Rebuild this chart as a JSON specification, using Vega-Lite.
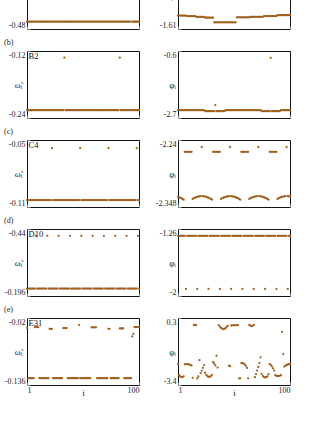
{
"$schema":"https://vega.github.io/schema/vega-lite/v6.json",
"padding":{"left":3,"top":-51,"right":0,"bottom":0},
"datasets":{"d":[
{"i":1,"aL":-0.467,"aR":-1.578,"bL":-0.226,"bR":-2.455,"cL":-0.1038,"cR":-2.3316,"dL":-0.223,"dR":-1.335,"eL":-0.0369,"eR":-2.24},
{"i":2,"aL":-0.467,"aR":-1.578,"bL":-0.226,"bR":-2.455,"cL":-0.1038,"cR":-2.3323,"dL":-0.223,"dR":-1.335,"eL":-0.1243,"eR":-2.86},
{"i":3,"aL":-0.467,"aR":-1.578,"bL":-0.226,"bR":-2.455,"cL":-0.1038,"cR":-2.333,"dL":-0.223,"dR":-1.335,"eL":-0.1243,"eR":-2.93},
{"i":4,"aL":-0.467,"aR":-1.578,"bL":-0.226,"bR":-2.455,"cL":-0.1038,"cR":-2.3339,"dL":-0.223,"dR":-1.335,"eL":-0.1243,"eR":-2.96},
{"i":5,"aL":-0.467,"aR":-1.578,"bL":-0.226,"bR":-2.455,"cL":-0.1038,"cR":-2.335,"dL":-0.223,"dR":-1.335,"eL":-0.1243,"eR":-2.96},
{"i":6,"aL":-0.467,"aR":-1.578,"bL":-0.226,"bR":-2.455,"cL":-0.1038,"cR":-2.3362,"dL":-0.223,"dR":-1.335,"eL":-0.1243,"eR":-2.92},
{"i":7,"aL":-0.467,"aR":-1.578,"bL":-0.226,"bR":-2.455,"cL":-0.1038,"cR":-2.259,"dL":-0.223,"dR":-1.335,"eL":-0.1243,"eR":-2.26},
{"i":8,"aL":-0.467,"aR":-1.578,"bL":-0.226,"bR":-2.455,"cL":-0.1038,"cR":-2.259,"dL":-0.223,"dR":-1.9215,"eL":-0.0357,"eR":-2.25},
{"i":9,"aL":-0.467,"aR":-1.579,"bL":-0.226,"bR":-2.455,"cL":-0.1038,"cR":-2.259,"dL":-0.4152,"dR":-1.335,"eL":-0.0357,"eR":-2.25},
{"i":10,"aL":-0.467,"aR":-1.579,"bL":-0.226,"bR":-2.455,"cL":-0.1038,"cR":-2.259,"dL":-0.223,"dR":-1.335,"eL":-0.0357,"eR":-2.26},
{"i":11,"aL":-0.467,"aR":-1.579,"bL":-0.226,"bR":-2.455,"cL":-0.1038,"cR":-2.259,"dL":-0.223,"dR":-1.335,"eL":-0.0357,"eR":-2.27},
{"i":12,"aL":-0.467,"aR":-1.579,"bL":-0.226,"bR":-2.455,"cL":-0.1038,"cR":-2.259,"dL":-0.223,"dR":-1.335,"eL":-0.1243,"eR":-2.29},
{"i":13,"aL":-0.467,"aR":-1.579,"bL":-0.226,"bR":-2.455,"cL":-0.1038,"cR":-2.259,"dL":-0.223,"dR":-1.335,"eL":-0.1243,"eR":-2.33},
{"i":14,"aL":-0.467,"aR":-1.579,"bL":-0.226,"bR":-2.455,"cL":-0.1038,"cR":-2.335,"dL":-0.223,"dR":-1.335,"eL":-0.1243,"eR":-3.0},
{"i":15,"aL":-0.467,"aR":-1.579,"bL":-0.226,"bR":-2.455,"cL":-0.1038,"cR":-2.3339,"dL":-0.223,"dR":-1.335,"eL":-0.1243,"eR":-0.09},
{"i":16,"aL":-0.467,"aR":-1.579,"bL":-0.226,"bR":-2.455,"cL":-0.1038,"cR":-2.333,"dL":-0.223,"dR":-1.335,"eL":-0.1243,"eR":-0.08},
{"i":17,"aL":-0.467,"aR":-1.581,"bL":-0.226,"bR":-2.455,"cL":-0.1038,"cR":-2.3323,"dL":-0.223,"dR":-1.335,"eL":-0.1243,"eR":-0.09},
{"i":18,"aL":-0.467,"aR":-1.581,"bL":-0.226,"bR":-2.455,"cL":-0.1038,"cR":-2.3316,"dL":-0.223,"dR":-1.9215,"eL":-0.1243,"eR":-3.04},
{"i":19,"aL":-0.467,"aR":-1.581,"bL":-0.226,"bR":-2.455,"cL":-0.1038,"cR":-2.3311,"dL":-0.4152,"dR":-1.335,"eL":-0.1243,"eR":-2.93},
{"i":20,"aL":-0.467,"aR":-1.581,"bL":-0.226,"bR":-2.455,"cL":-0.1038,"cR":-2.3308,"dL":-0.223,"dR":-1.335,"eL":-0.1243,"eR":-2.02},
{"i":21,"aL":-0.467,"aR":-1.581,"bL":-0.226,"bR":-2.455,"cL":-0.1038,"cR":-2.3306,"dL":-0.223,"dR":-1.335,"eL":-0.0387,"eR":-2.75},
{"i":22,"aL":-0.467,"aR":-1.581,"bL":-0.226,"bR":-2.455,"cL":-0.1038,"cR":-2.2511,"dL":-0.223,"dR":-1.335,"eL":-0.0387,"eR":-2.6},
{"i":23,"aL":-0.467,"aR":-1.581,"bL":-0.226,"bR":-2.455,"cL":-0.0573,"cR":-2.3306,"dL":-0.223,"dR":-1.335,"eL":-0.0387,"eR":-2.45},
{"i":24,"aL":-0.467,"aR":-1.581,"bL":-0.226,"bR":-2.455,"cL":-0.1038,"cR":-2.3308,"dL":-0.223,"dR":-1.335,"eL":-0.1243,"eR":-2.3},
{"i":25,"aL":-0.467,"aR":-1.583,"bL":-0.226,"bR":-2.487,"cL":-0.1038,"cR":-2.3311,"dL":-0.223,"dR":-1.335,"eL":-0.1243,"eR":-2.72},
{"i":26,"aL":-0.467,"aR":-1.583,"bL":-0.226,"bR":-2.487,"cL":-0.1038,"cR":-2.3316,"dL":-0.223,"dR":-1.335,"eL":-0.1243,"eR":-2.84},
{"i":27,"aL":-0.467,"aR":-1.583,"bL":-0.226,"bR":-2.487,"cL":-0.1038,"cR":-2.3323,"dL":-0.223,"dR":-1.335,"eL":-0.1243,"eR":-2.91},
{"i":28,"aL":-0.467,"aR":-1.583,"bL":-0.226,"bR":-2.487,"cL":-0.1038,"cR":-2.333,"dL":-0.223,"dR":-1.9215,"eL":-0.1243,"eR":-2.95},
{"i":29,"aL":-0.467,"aR":-1.583,"bL":-0.226,"bR":-2.487,"cL":-0.1038,"cR":-2.3339,"dL":-0.4152,"dR":-1.335,"eL":-0.1243,"eR":-2.95},
{"i":30,"aL":-0.467,"aR":-1.583,"bL":-0.226,"bR":-2.487,"cL":-0.1038,"cR":-2.335,"dL":-0.223,"dR":-1.335,"eL":-0.1243,"eR":-2.91},
{"i":31,"aL":-0.467,"aR":-1.583,"bL":-0.226,"bR":-2.487,"cL":-0.1038,"cR":-2.3362,"dL":-0.223,"dR":-1.335,"eL":-0.1243,"eR":-2.84},
{"i":32,"aL":-0.467,"aR":-1.583,"bL":-0.226,"bR":-2.487,"cL":-0.1038,"cR":-2.259,"dL":-0.223,"dR":-1.335,"eL":-0.1243,"eR":-2.14},
{"i":33,"aL":-0.467,"aR":-1.594,"bL":-0.226,"bR":-2.487,"cL":-0.1038,"cR":-2.259,"dL":-0.223,"dR":-1.335,"eL":-0.0374,"eR":-2.22},
{"i":34,"aL":-0.467,"aR":-1.594,"bL":-0.132,"bR":-2.296,"cL":-0.1038,"cR":-2.259,"dL":-0.223,"dR":-1.335,"eL":-0.0374,"eR":-2.32},
{"i":35,"aL":-0.467,"aR":-1.594,"bL":-0.226,"bR":-2.487,"cL":-0.1038,"cR":-2.259,"dL":-0.223,"dR":-1.335,"eL":-0.0374,"eR":-1.78},
{"i":36,"aL":-0.467,"aR":-1.594,"bL":-0.226,"bR":-2.487,"cL":-0.1038,"cR":-2.259,"dL":-0.223,"dR":-1.335,"eL":-0.0374,"eR":-2.44},
{"i":37,"aL":-0.467,"aR":-1.594,"bL":-0.226,"bR":-2.487,"cL":-0.1038,"cR":-2.259,"dL":-0.223,"dR":-1.335,"eL":-0.1243,"eR":-0.09},
{"i":38,"aL":-0.467,"aR":-1.594,"bL":-0.226,"bR":-2.487,"cL":-0.1038,"cR":-2.259,"dL":-0.223,"dR":-1.9215,"eL":-0.1243,"eR":-0.17},
{"i":39,"aL":-0.467,"aR":-1.594,"bL":-0.226,"bR":-2.487,"cL":-0.1038,"cR":-2.335,"dL":-0.4152,"dR":-1.335,"eL":-0.1243,"eR":-0.24},
{"i":40,"aL":-0.467,"aR":-1.594,"bL":-0.226,"bR":-2.487,"cL":-0.1038,"cR":-2.3339,"dL":-0.223,"dR":-1.335,"eL":-0.1243,"eR":-0.29},
{"i":41,"aL":-0.467,"aR":-1.594,"bL":-0.226,"bR":-2.487,"cL":-0.1038,"cR":-2.333,"dL":-0.223,"dR":-1.335,"eL":-0.1243,"eR":-0.31},
{"i":42,"aL":-0.467,"aR":-1.594,"bL":-0.226,"bR":-2.487,"cL":-0.1038,"cR":-2.3323,"dL":-0.223,"dR":-1.335,"eL":-0.1243,"eR":-0.3},
{"i":43,"aL":-0.467,"aR":-1.594,"bL":-0.226,"bR":-2.455,"cL":-0.1038,"cR":-2.3316,"dL":-0.223,"dR":-1.335,"eL":-0.1243,"eR":-0.26},
{"i":44,"aL":-0.467,"aR":-1.594,"bL":-0.226,"bR":-2.455,"cL":-0.1038,"cR":-2.3311,"dL":-0.223,"dR":-1.335,"eL":-0.1243,"eR":-0.19},
{"i":45,"aL":-0.467,"aR":-1.594,"bL":-0.226,"bR":-2.455,"cL":-0.1038,"cR":-2.3308,"dL":-0.223,"dR":-1.335,"eL":-0.1243,"eR":-0.13},
{"i":46,"aL":-0.467,"aR":-1.594,"bL":-0.226,"bR":-2.455,"cL":-0.1038,"cR":-2.3306,"dL":-0.223,"dR":-1.335,"eL":-0.1243,"eR":-2.33},
{"i":47,"aL":-0.467,"aR":-1.594,"bL":-0.226,"bR":-2.455,"cL":-0.1038,"cR":-2.2511,"dL":-0.223,"dR":-1.335,"eL":-0.0322,"eR":-2.36},
{"i":48,"aL":-0.467,"aR":-1.594,"bL":-0.226,"bR":-2.455,"cL":-0.0573,"cR":-2.3306,"dL":-0.223,"dR":-1.9215,"eL":-0.1243,"eR":-0.11},
{"i":49,"aL":-0.467,"aR":-1.594,"bL":-0.226,"bR":-2.455,"cL":-0.1038,"cR":-2.3308,"dL":-0.4152,"dR":-1.335,"eL":-0.1243,"eR":-0.1},
{"i":50,"aL":-0.467,"aR":-1.594,"bL":-0.226,"bR":-2.455,"cL":-0.1038,"cR":-2.3311,"dL":-0.223,"dR":-1.335,"eL":-0.1243,"eR":-0.1},
{"i":51,"aL":-0.467,"aR":-1.594,"bL":-0.226,"bR":-2.455,"cL":-0.1038,"cR":-2.3316,"dL":-0.223,"dR":-1.335,"eL":-0.1243,"eR":-0.1},
{"i":52,"aL":-0.467,"aR":-1.594,"bL":-0.226,"bR":-2.455,"cL":-0.1038,"cR":-2.3323,"dL":-0.223,"dR":-1.335,"eL":-0.1243,"eR":-0.1},
{"i":53,"aL":-0.467,"aR":-1.582,"bL":-0.226,"bR":-2.455,"cL":-0.1038,"cR":-2.333,"dL":-0.223,"dR":-1.335,"eL":-0.1243,"eR":-0.09},
{"i":54,"aL":-0.467,"aR":-1.582,"bL":-0.226,"bR":-2.455,"cL":-0.1038,"cR":-2.3339,"dL":-0.223,"dR":-1.335,"eL":-0.1243,"eR":-0.09},
{"i":55,"aL":-0.467,"aR":-1.582,"bL":-0.226,"bR":-2.455,"cL":-0.1038,"cR":-2.335,"dL":-0.223,"dR":-1.335,"eL":-0.1243,"eR":-3.03},
{"i":56,"aL":-0.467,"aR":-1.582,"bL":-0.226,"bR":-2.455,"cL":-0.1038,"cR":-2.3362,"dL":-0.223,"dR":-1.335,"eL":-0.1243,"eR":-3.03},
{"i":57,"aL":-0.467,"aR":-1.582,"bL":-0.226,"bR":-2.455,"cL":-0.1038,"cR":-2.259,"dL":-0.223,"dR":-1.335,"eL":-0.1243,"eR":-2.19},
{"i":58,"aL":-0.467,"aR":-1.582,"bL":-0.226,"bR":-2.455,"cL":-0.1038,"cR":-2.259,"dL":-0.223,"dR":-1.9215,"eL":-0.0362,"eR":-2.19},
{"i":59,"aL":-0.467,"aR":-1.582,"bL":-0.226,"bR":-2.455,"cL":-0.1038,"cR":-2.259,"dL":-0.4152,"dR":-1.335,"eL":-0.0362,"eR":-2.22},
{"i":60,"aL":-0.467,"aR":-1.582,"bL":-0.226,"bR":-2.455,"cL":-0.1038,"cR":-2.259,"dL":-0.223,"dR":-1.335,"eL":-0.0362,"eR":-2.26},
{"i":61,"aL":-0.467,"aR":-1.582,"bL":-0.226,"bR":-2.455,"cL":-0.1038,"cR":-2.259,"dL":-0.223,"dR":-1.335,"eL":-0.0362,"eR":-2.34},
{"i":62,"aL":-0.467,"aR":-1.582,"bL":-0.226,"bR":-2.455,"cL":-0.1038,"cR":-2.259,"dL":-0.223,"dR":-1.335,"eL":-0.0362,"eR":-2.46},
{"i":63,"aL":-0.467,"aR":-1.582,"bL":-0.226,"bR":-2.455,"cL":-0.1038,"cR":-2.259,"dL":-0.223,"dR":-1.335,"eL":-0.1243,"eR":-3.03},
{"i":64,"aL":-0.467,"aR":-1.582,"bL":-0.226,"bR":-2.455,"cL":-0.1038,"cR":-2.335,"dL":-0.223,"dR":-1.335,"eL":-0.1243,"eR":-0.08},
{"i":65,"aL":-0.467,"aR":-1.581,"bL":-0.226,"bR":-2.455,"cL":-0.1038,"cR":-2.3339,"dL":-0.223,"dR":-1.335,"eL":-0.1243,"eR":-0.12},
{"i":66,"aL":-0.467,"aR":-1.581,"bL":-0.226,"bR":-2.455,"cL":-0.1038,"cR":-2.333,"dL":-0.223,"dR":-1.335,"eL":-0.1243,"eR":-0.15},
{"i":67,"aL":-0.467,"aR":-1.581,"bL":-0.226,"bR":-2.455,"cL":-0.1038,"cR":-2.3323,"dL":-0.223,"dR":-1.335,"eL":-0.1243,"eR":-0.13},
{"i":68,"aL":-0.467,"aR":-1.581,"bL":-0.226,"bR":-2.455,"cL":-0.1038,"cR":-2.3316,"dL":-0.223,"dR":-1.9215,"eL":-0.1243,"eR":-0.08},
{"i":69,"aL":-0.467,"aR":-1.581,"bL":-0.226,"bR":-2.455,"cL":-0.1038,"cR":-2.3311,"dL":-0.4152,"dR":-1.335,"eL":-0.1243,"eR":-2.97},
{"i":70,"aL":-0.467,"aR":-1.581,"bL":-0.226,"bR":-2.455,"cL":-0.1038,"cR":-2.3308,"dL":-0.223,"dR":-1.335,"eL":-0.1243,"eR":-2.8},
{"i":71,"aL":-0.467,"aR":-1.581,"bL":-0.226,"bR":-2.455,"cL":-0.1038,"cR":-2.3306,"dL":-0.223,"dR":-1.335,"eL":-0.1243,"eR":-2.6},
{"i":72,"aL":-0.467,"aR":-1.581,"bL":-0.226,"bR":-2.455,"cL":-0.1038,"cR":-2.2511,"dL":-0.223,"dR":-1.335,"eL":-0.1243,"eR":-2.4},
{"i":73,"aL":-0.467,"aR":-1.581,"bL":-0.226,"bR":-2.455,"cL":-0.0573,"cR":-2.3306,"dL":-0.223,"dR":-1.335,"eL":-0.0386,"eR":-2.18},
{"i":74,"aL":-0.467,"aR":-1.581,"bL":-0.226,"bR":-2.455,"cL":-0.1038,"cR":-2.3308,"dL":-0.223,"dR":-1.335,"eL":-0.0386,"eR":-1.87},
{"i":75,"aL":-0.467,"aR":-1.581,"bL":-0.226,"bR":-2.487,"cL":-0.1038,"cR":-2.3311,"dL":-0.223,"dR":-1.335,"eL":-0.1243,"eR":-2.78},
{"i":76,"aL":-0.467,"aR":-1.581,"bL":-0.226,"bR":-2.487,"cL":-0.1038,"cR":-2.3316,"dL":-0.223,"dR":-1.335,"eL":-0.1243,"eR":-2.9},
{"i":77,"aL":-0.467,"aR":-1.579,"bL":-0.226,"bR":-2.487,"cL":-0.1038,"cR":-2.3323,"dL":-0.223,"dR":-1.335,"eL":-0.1243,"eR":-2.96},
{"i":78,"aL":-0.467,"aR":-1.579,"bL":-0.226,"bR":-2.487,"cL":-0.1038,"cR":-2.333,"dL":-0.223,"dR":-1.9215,"eL":-0.1243,"eR":-2.98},
{"i":79,"aL":-0.467,"aR":-1.579,"bL":-0.226,"bR":-2.487,"cL":-0.1038,"cR":-2.3339,"dL":-0.4152,"dR":-1.335,"eL":-0.1243,"eR":-2.97},
{"i":80,"aL":-0.467,"aR":-1.579,"bL":-0.226,"bR":-2.487,"cL":-0.1038,"cR":-2.335,"dL":-0.223,"dR":-1.335,"eL":-0.1243,"eR":-2.92},
{"i":81,"aL":-0.467,"aR":-1.579,"bL":-0.226,"bR":-2.487,"cL":-0.1038,"cR":-2.3362,"dL":-0.223,"dR":-1.335,"eL":-0.1243,"eR":-2.8},
{"i":82,"aL":-0.467,"aR":-1.579,"bL":-0.226,"bR":-2.487,"cL":-0.1038,"cR":-2.259,"dL":-0.223,"dR":-1.335,"eL":-0.1243,"eR":-2.24},
{"i":83,"aL":-0.467,"aR":-1.579,"bL":-0.132,"bR":-0.813,"cL":-0.1038,"cR":-2.259,"dL":-0.223,"dR":-1.335,"eL":-0.0381,"eR":-2.29},
{"i":84,"aL":-0.467,"aR":-1.579,"bL":-0.226,"bR":-2.487,"cL":-0.1038,"cR":-2.259,"dL":-0.223,"dR":-1.335,"eL":-0.0381,"eR":-2.37},
{"i":85,"aL":-0.467,"aR":-1.579,"bL":-0.226,"bR":-2.487,"cL":-0.1038,"cR":-2.259,"dL":-0.223,"dR":-1.335,"eL":-0.0381,"eR":-2.48},
{"i":86,"aL":-0.467,"aR":-1.579,"bL":-0.226,"bR":-2.487,"cL":-0.1038,"cR":-2.259,"dL":-0.223,"dR":-1.335,"eL":-0.0381,"eR":-2.6},
{"i":87,"aL":-0.467,"aR":-1.579,"bL":-0.226,"bR":-2.487,"cL":-0.1038,"cR":-2.259,"dL":-0.223,"dR":-1.335,"eL":-0.1243,"eR":-2.86},
{"i":88,"aL":-0.467,"aR":-1.579,"bL":-0.226,"bR":-2.487,"cL":-0.1038,"cR":-2.259,"dL":-0.223,"dR":-1.9215,"eL":-0.1243,"eR":-2.89},
{"i":89,"aL":-0.467,"aR":-1.577,"bL":-0.226,"bR":-2.487,"cL":-0.1038,"cR":-2.335,"dL":-0.4152,"dR":-1.335,"eL":-0.1243,"eR":-2.9},
{"i":90,"aL":-0.467,"aR":-1.577,"bL":-0.226,"bR":-2.487,"cL":-0.1038,"cR":-2.3339,"dL":-0.223,"dR":-1.335,"eL":-0.1243,"eR":-2.9},
{"i":91,"aL":-0.467,"aR":-1.577,"bL":-0.226,"bR":-2.487,"cL":-0.1038,"cR":-2.333,"dL":-0.223,"dR":-1.335,"eL":-0.1243,"eR":-2.89},
{"i":92,"aL":-0.467,"aR":-1.577,"bL":-0.226,"bR":-2.455,"cL":-0.1038,"cR":-2.3323,"dL":-0.223,"dR":-1.335,"eL":-0.1243,"eR":-2.86},
{"i":93,"aL":-0.38,"aR":-1.577,"bL":-0.226,"bR":-2.455,"cL":-0.1038,"cR":-2.3316,"dL":-0.223,"dR":-1.335,"eL":-0.1243,"eR":-0.46},
{"i":94,"aL":-0.467,"aR":-1.577,"bL":-0.226,"bR":-2.455,"cL":-0.1038,"cR":-2.3311,"dL":-0.223,"dR":-1.335,"eL":-0.0519,"eR":-1.69},
{"i":95,"aL":-0.467,"aR":-1.577,"bL":-0.226,"bR":-2.455,"cL":-0.1038,"cR":-2.3308,"dL":-0.223,"dR":-1.335,"eL":-0.0474,"eR":-2.38},
{"i":96,"aL":-0.467,"aR":-1.577,"bL":-0.226,"bR":-2.455,"cL":-0.1038,"cR":-2.3306,"dL":-0.223,"dR":-1.335,"eL":-0.0357,"eR":-2.33},
{"i":97,"aL":-0.467,"aR":-1.577,"bL":-0.226,"bR":-2.455,"cL":-0.1038,"cR":-2.2511,"dL":-0.223,"dR":-1.335,"eL":-0.0357,"eR":-2.29},
{"i":98,"aL":-0.467,"aR":-1.577,"bL":-0.226,"bR":-2.455,"cL":-0.0573,"cR":-2.3306,"dL":-0.223,"dR":-1.9215,"eL":-0.0357,"eR":-2.27},
{"i":99,"aL":-0.467,"aR":-1.577,"bL":-0.226,"bR":-2.455,"cL":-0.1038,"cR":-2.3308,"dL":-0.4152,"dR":-1.335,"eL":-0.0357,"eR":-2.25},
{"i":100,"aL":-0.467,"aR":-1.577,"bL":-0.226,"bR":-2.455,"cL":-0.1038,"cR":-2.3311,"dL":-0.223,"dR":-1.335,"eL":-0.0357,"eR":-2.24}
]},
"columns":2,
"spacing":{"row":22,"column":39},
"bounds":"flush",
"concat":[
{"width":112,"height":67,"title":"(a)","data":{"name":"d"},"mark":{"type":"circle","size":5,"opacity":1,"color":"#a0601e"},
 "encoding":{"x":{"field":"i","type":"quantitative","scale":{"domain":[1,100],"nice":false,"zero":false},"axis":{"values":[1,100],"labels":false,"title":null}},
 "y":{"field":"aL","type":"quantitative","scale":{"domain":[-0.48,-0.36],"nice":false,"zero":false},"axis":{"values":[-0.48,-0.36],"title":"\u03c9\u0303\u1d62","titleX":-9,"labelExpr":"''+datum.value"}}}},
{"width":112,"height":67,"data":{"name":"d"},"mark":{"type":"circle","size":5,"opacity":1,"color":"#a0601e"},
 "encoding":{"x":{"field":"i","type":"quantitative","scale":{"domain":[1,100],"nice":false,"zero":false},"axis":{"values":[1,100],"labels":false,"title":null}},
 "y":{"field":"aR","type":"quantitative","scale":{"domain":[-1.61,-1.45],"nice":false,"zero":false},"axis":{"values":[-1.61,-1.45],"title":"\u03c6\u1d62","titleX":-6,"labelExpr":"''+datum.value"}}}},
{"width":112,"height":67,"title":"(b)","data":{"name":"d"},"layer":[
 {"mark":{"type":"circle","size":5,"opacity":1,"color":"#a0601e"},
 "encoding":{"x":{"field":"i","type":"quantitative","scale":{"domain":[1,100],"nice":false,"zero":false},"axis":{"values":[1,100],"labels":false,"title":null}},
 "y":{"field":"bL","type":"quantitative","scale":{"domain":[-0.24,-0.12],"nice":false,"zero":false},"axis":{"values":[-0.24,-0.12],"title":"\u03c9\u0303\u1d62","titleX":-9,"labelExpr":"''+datum.value"}}}},
 {"data":{"values":[{"t":"B2"}]},"mark":{"type":"text","align":"left","baseline":"top","dx":1.5,"dy":1,"fontSize":8.5,"font":"Liberation Serif","color":"#111"},"encoding":{"x":{"datum":1},"y":{"datum":-0.12},"text":{"field":"t"}}}]},
{"width":112,"height":67,"data":{"name":"d"},"mark":{"type":"circle","size":5,"opacity":1,"color":"#a0601e"},
 "encoding":{"x":{"field":"i","type":"quantitative","scale":{"domain":[1,100],"nice":false,"zero":false},"axis":{"values":[1,100],"labels":false,"title":null}},
 "y":{"field":"bR","type":"quantitative","scale":{"domain":[-2.7,-0.6],"nice":false,"zero":false},"axis":{"values":[-2.7,-0.6],"title":"\u03c6\u1d62","titleX":-6,"labelExpr":"''+datum.value"}}}},
{"width":112,"height":67,"title":"(c)","data":{"name":"d"},"layer":[
 {"mark":{"type":"circle","size":5,"opacity":1,"color":"#a0601e"},
 "encoding":{"x":{"field":"i","type":"quantitative","scale":{"domain":[1,100],"nice":false,"zero":false},"axis":{"values":[1,100],"labels":false,"title":null}},
 "y":{"field":"cL","type":"quantitative","scale":{"domain":[-0.11,-0.05],"nice":false,"zero":false},"axis":{"values":[-0.11,-0.05],"title":"\u03c9\u0303\u1d62","titleX":-9,"labelExpr":"''+datum.value"}}}},
 {"data":{"values":[{"t":"C4"}]},"mark":{"type":"text","align":"left","baseline":"top","dx":1.5,"dy":1,"fontSize":8.5,"font":"Liberation Serif","color":"#111"},"encoding":{"x":{"datum":1},"y":{"datum":-0.05},"text":{"field":"t"}}}]},
{"width":112,"height":67,"data":{"name":"d"},"mark":{"type":"circle","size":5,"opacity":1,"color":"#a0601e"},
 "encoding":{"x":{"field":"i","type":"quantitative","scale":{"domain":[1,100],"nice":false,"zero":false},"axis":{"values":[1,100],"labels":false,"title":null}},
 "y":{"field":"cR","type":"quantitative","scale":{"domain":[-2.348,-2.24],"nice":false,"zero":false},"axis":{"values":[-2.348,-2.24],"title":"\u03c6\u1d62","titleX":-6,"labelExpr":"''+datum.value"}}}},
{"width":112,"height":67,"title":"(d)","data":{"name":"d"},"layer":[
 {"mark":{"type":"circle","size":5,"opacity":1,"color":"#a0601e"},
 "encoding":{"x":{"field":"i","type":"quantitative","scale":{"domain":[1,100],"nice":false,"zero":false},"axis":{"values":[1,100],"labels":false,"title":null}},
 "y":{"field":"dL","type":"quantitative","scale":{"domain":[-0.196,-0.44],"nice":false,"zero":false},"axis":{"values":[-0.196,-0.44],"title":"\u03c9\u0303\u1d62","titleX":-9,"labelExpr":"''+datum.value"}}}},
 {"data":{"values":[{"t":"D10"}]},"mark":{"type":"text","align":"left","baseline":"top","dx":1.5,"dy":1,"fontSize":8.5,"font":"Liberation Serif","color":"#111"},"encoding":{"x":{"datum":1},"y":{"datum":-0.44},"text":{"field":"t"}}}]},
{"width":112,"height":67,"data":{"name":"d"},"mark":{"type":"circle","size":5,"opacity":1,"color":"#a0601e"},
 "encoding":{"x":{"field":"i","type":"quantitative","scale":{"domain":[1,100],"nice":false,"zero":false},"axis":{"values":[1,100],"labels":false,"title":null}},
 "y":{"field":"dR","type":"quantitative","scale":{"domain":[-2,-1.26],"nice":false,"zero":false},"axis":{"values":[-2,-1.26],"title":"\u03c6\u1d62","titleX":-6,"labelExpr":"''+datum.value"}}}},
{"width":112,"height":67,"title":"(e)","data":{"name":"d"},"layer":[
 {"mark":{"type":"circle","size":5,"opacity":1,"color":"#a0601e"},
 "encoding":{"x":{"field":"i","type":"quantitative","scale":{"domain":[1,100],"nice":false,"zero":false},"axis":{"values":[1,100],"title":"i","titleY":10,"titleBaseline":"alphabetic","labelExpr":"''+datum.value"}},
 "y":{"field":"eL","type":"quantitative","scale":{"domain":[-0.136,-0.02],"nice":false,"zero":false},"axis":{"values":[-0.136,-0.02],"title":"\u03c9\u0303\u1d62","titleX":-9,"labelExpr":"''+datum.value"}}}},
 {"data":{"values":[{"t":"E31"}]},"mark":{"type":"text","align":"left","baseline":"top","dx":1.5,"dy":1,"fontSize":8.5,"font":"Liberation Serif","color":"#111"},"encoding":{"x":{"datum":1},"y":{"datum":-0.02},"text":{"field":"t"}}}]},
{"width":112,"height":67,"data":{"name":"d"},"mark":{"type":"circle","size":5,"opacity":1,"color":"#a0601e"},
 "encoding":{"x":{"field":"i","type":"quantitative","scale":{"domain":[1,100],"nice":false,"zero":false},"axis":{"values":[1,100],"title":"i","titleY":10,"titleBaseline":"alphabetic","labelExpr":"''+datum.value"}},
 "y":{"field":"eR","type":"quantitative","scale":{"domain":[-3.4,0.3],"nice":false,"zero":false},"axis":{"values":[-3.4,0.3],"title":"\u03c6\u1d62","titleX":-6,"labelExpr":"''+datum.value"}}}}
],
"config":{
 "background":"white",
 "font":"Liberation Serif",
 "view":{"stroke":"#111","strokeWidth":1},
 "axis":{"grid":false,"domain":false,"labelFont":"Liberation Serif","labelFontSize":8,"labelColor":"#222","tickColor":"#888","tickSize":-3,"labelFlush":true,"titleFont":"Liberation Serif","titleFontWeight":"normal","titleColor":"#222","titleFontSize":9},
 "axisX":{"labelPadding":4},
 "axisY":{"labelPadding":5,"titleAngle":0,"titleY":33.5,"titleAlign":"center","titleBaseline":"middle"},
 "title":{"font":"Liberation Serif","fontSize":8,"fontWeight":"normal","anchor":"start","frame":"group","dx":-23,"offset":4,"color":"#222"}
}
}
